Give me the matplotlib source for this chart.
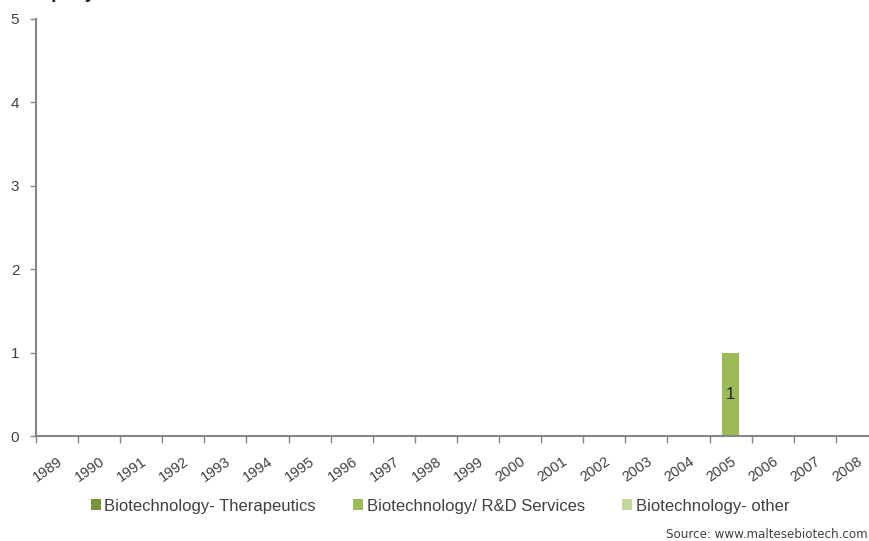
#This python script redraws the companies-per-year bar chart

import numpy as np
import matplotlib
matplotlib.use("Agg")
from matplotlib import pyplot as plt
from matplotlib.patches import Patch

#chart data
years = [str(y) for y in range(1989, 2009)]
therapeutics = [0]*20
rd_services = [0]*16 + [1] + [0]*3   # one company in 2005
other = [0]*20
series_names = ["Biotechnology- Therapeutics", "Biotechnology/ R&D Services", "Biotechnology- other"]
series_colors = ["#77933C", "#9BBB59", "#C3D69B"]
y_ticks = [0, 1, 2, 3, 4, 5]

plt.rcParams['font.family'] = ['Liberation Sans', 'DejaVu Sans']
grey = "#868686"
txt = "#404040"

fig = plt.figure(figsize=(8.7, 5.41), dpi=100)
#axes run a bit past the right edge, like the cropped original
ax = fig.add_axes([36/870, 1-436/541, 842/870, (436-19)/541])

x = np.arange(len(years))
bottom = np.zeros(len(years))
for vals, col in zip([therapeutics, rd_services, other], series_colors):
	vals = np.array(vals, dtype=float)
	bars = ax.bar(x, vals, width=0.4, bottom=bottom, color=col, zorder=2)
	for b, v in zip(bars, vals):
		if v > 0:
			ax.text(b.get_x()+b.get_width()/2, b.get_y()+v/2, "%d" % v,
				ha="center", va="center", fontsize=12, color="#222222", zorder=3)
	bottom += vals

ax.set_xlim(-0.5, len(years)-0.5)
ax.set_ylim(0, 5)
ax.set_yticks(y_ticks)
ax.set_yticklabels([str(t) for t in y_ticks], fontsize=11, color=txt)

#ticks between categories, labels at centres
ax.set_xticks(np.arange(-0.5, len(years)), minor=False)
ax.set_xticklabels([])
ax.set_xticks(x, minor=True)
ax.set_xticklabels(years, minor=True, rotation=35, ha="right", rotation_mode="anchor",
	fontsize=10.5, color=txt)
ax.tick_params(axis="x", which="major", direction="out", length=5, color=grey, width=1)
ax.tick_params(axis="x", which="minor", length=0, pad=13)
ax.tick_params(axis="y", direction="out", length=4, color=grey, width=1, pad=8)

for s in ["top", "right"]:
	ax.spines[s].set_visible(False)
for s in ["left", "bottom"]:
	ax.spines[s].set_color(grey)
	ax.spines[s].set_linewidth(1.5)

#legend below the chart
handles = [Patch(facecolor=c, edgecolor="none") for c in series_colors]
fig.legend(handles, series_names, loc="center", bbox_to_anchor=(440/870, 1-506/541),
	ncol=3, frameon=False, fontsize=12, handlelength=0.6, handleheight=0.6,
	handletextpad=0.2, columnspacing=2.25, labelcolor=txt)

#title, mostly cut off at the top (only descenders show)
fig.text(9/870, 1+1.5/541, "Company formation", fontsize=13.7, fontweight="bold",
	color="#222222", ha="left", va="baseline")

fig.text(868/870, 1-535/541, "Source: www.maltesebiotech.com", fontsize=8.6,
	family="DejaVu Sans", color=txt, ha="right", va="center")

fig.savefig("out.png", dpi=100)
